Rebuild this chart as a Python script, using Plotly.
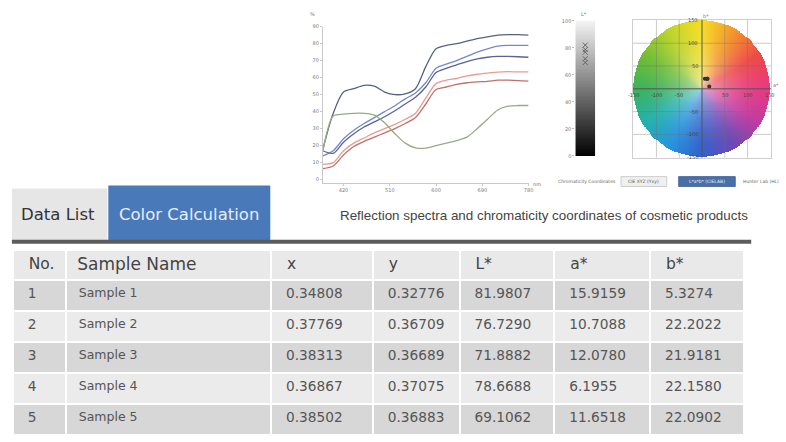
import numpy as np
import plotly.graph_objects as go

W, H = 786, 442
def fx(px): return px / W
def fy(py): return 1 - py / H

# ---------------- data ----------------
wavelengths = list(range(380, 781, 20))
spec_navy   = [18, 39, 51.5, 53.5, 55.5, 55, 51.5, 50, 50.5, 53.5, 66.5, 77, 79, 80, 81.5, 83, 84, 85, 85.3, 85.3, 85]
spec_blue   = [14, 17, 24, 29, 33, 36.5, 40, 43.5, 47.5, 51, 57, 65.5, 68, 70, 72.5, 75, 77, 78.5, 79, 79, 79]
spec_purple = [17, 15.5, 22, 27, 31, 34, 37, 40.5, 44.5, 48.5, 54.5, 63, 65.5, 67.5, 69.5, 71, 72, 72.5, 72.5, 72.3, 72]
spec_salmon = [9, 10, 17, 21.5, 24.5, 27.5, 30, 32.5, 35.5, 39, 48, 56.5, 58.5, 59.5, 61, 62, 62.7, 63.3, 63.5, 63.4, 63.4]
spec_red    = [6.5, 8, 14.5, 19.5, 22.5, 25, 27.5, 30, 33, 36.5, 44.5, 53, 54.5, 56, 57, 57.5, 57.8, 58.5, 58.5, 58.3, 58]
spec_green  = [17, 37.5, 38.5, 39, 39, 38, 33.5, 27, 21.5, 18.7, 18.5, 20, 21.5, 23, 25, 30, 35.5, 41, 43.2, 43.6, 43.6]

spec_ticks = [420, 510, 600, 690, 780]
pct_ticks = list(range(0, 91, 10))

sample_no = [1, 2, 3, 4, 5]
sample_names = ["Sample 1", "Sample 2", "Sample 3", "Sample 4", "Sample 5"]
cie_x = [0.34808, 0.37769, 0.38313, 0.36867, 0.38502]
cie_y = [0.32776, 0.36709, 0.36689, 0.37075, 0.36883]
L_star = [81.9807, 76.7290, 71.8882, 78.6688, 69.1062]
a_star = [15.9159, 10.7088, 12.0780, 6.1955, 11.6518]
b_star = [5.3274, 22.2022, 21.9181, 22.1580, 22.0902]

headers = ["No.", "Sample Name", "x", "y", "L*", "a*", "b*"]
L_ticks = [0, 20, 40, 60, 80, 100]
ab_ticks = [-150, -100, -50, 50, 100, 150]

fig = go.Figure()

# ---------------- spectra ----------------
series = [
    ("Spectrum 1", spec_navy, "#56627f"),
    ("Spectrum 2", spec_blue, "#7588cb"),
    ("Spectrum 3", spec_purple, "#5a619c"),
    ("Spectrum 4", spec_salmon, "#e99c94"),
    ("Spectrum 5", spec_red, "#c0706a"),
    ("Spectrum 6", spec_green, "#96ab82"),
]
for name, vals, col in series:
    fig.add_trace(go.Scatter(x=wavelengths, y=vals, mode="lines", name=name,
                             line=dict(color=col, width=1.3, shape="spline", smoothing=0.8),
                             xaxis="x", yaxis="y", hoverinfo="skip"))

# ---------------- L* gray bar ----------------
levels = np.linspace(0, 100, 101).tolist()
fig.add_trace(go.Heatmap(z=[[v] for v in levels], x=[0], y=levels,
                         colorscale=[[0, "#000000"], [1, "#f4f4f4"]],
                         showscale=False, xaxis="x2", yaxis="y2", hoverinfo="skip"))
fig.add_trace(go.Scatter(x=[0] * len(L_star), y=L_star, mode="markers",
                         marker=dict(symbol="x-thin", size=5, line=dict(color="#666", width=1)),
                         xaxis="x2", yaxis="y2", hoverinfo="skip"))

# ---------------- a*b* colour wheel ----------------
N = 150
R = 150.0
lim = 151.5
coords = np.linspace(-lim, lim, N)
A, B = np.meshgrid(coords, coords)  # row 0 = bottom (b = -lim)
rr = np.sqrt(A ** 2 + B ** 2) / R
ang = (np.degrees(np.arctan2(B, A)) + 360) % 360
key_ang = [0, 30, 60, 90, 120, 150, 180, 210, 240, 270, 300, 330, 360]
key_col = np.array([
    (232, 58, 128), (238, 72, 72), (244, 148, 44), (246, 222, 36), (188, 212, 44),
    (112, 190, 52), (60, 178, 90), (36, 178, 170), (38, 150, 222), (52, 96, 204),
    (108, 72, 182), (196, 58, 160), (232, 58, 128)], dtype=float)
rgb = np.zeros(A.shape + (3,))
for c in range(3):
    rgb[..., c] = np.interp(ang, key_ang, key_col[:, c])
w = np.clip(1 - rr, 0, 1) ** 2 * 0.6
rgb = rgb * (1 - w[..., None]) + 245 * w[..., None]
inside = rr <= 1
rgb[~inside] = 255
img = np.round(rgb).astype(int).tolist()
dxy = float(coords[1] - coords[0])
fig.add_trace(go.Image(z=img, colormodel="rgb", x0=-lim, dx=dxy, y0=-lim, dy=dxy,
                       xaxis="x3", yaxis="y3", hoverinfo="skip"))
fig.add_trace(go.Scatter(x=a_star, y=b_star, mode="markers",
                         marker=dict(size=4, color="#333"), xaxis="x3", yaxis="y3",
                         hoverinfo="skip"))

# ---------------- table ----------------
sp = "\u2002"
thin = "\u2009"
row_fill = ["#d7d7d7", "#ebebeb", "#d7d7d7", "#ebebeb", "#d7d7d7"]
fig.add_trace(go.Table(
    domain=dict(x=[fx(13), fx(749)], y=[0, fy(250)]),
    columnwidth=[53, 206, 102, 87, 95, 96, 94],
    header=dict(values=[sp + headers[0], thin + headers[1]] + [sp + h for h in headers[2:]],
                fill_color="#e9e9e9",
                line=dict(color="white", width=2), align="left", height=30,
                font=dict(family="DejaVu Sans", size=[15.5, 17, 15.5, 15.5, 15.5, 15.5, 15.5], color="#444")),
    cells=dict(values=[sample_no, sample_names, cie_x, cie_y, L_star, a_star, b_star],
               format=["", "", ".5f", ".5f", ".4f", ".4f", ".4f"],
               prefix=[sp, thin, sp, sp, sp, sp, sp],
               fill_color=[row_fill] * 7, line=dict(color="white", width=2),
               align="left", height=31,
               font=dict(family="DejaVu Sans", size=[13.7, 12.5, 13.7, 13.7, 13.7, 13.7, 13.7], color="#555")),
))

# ---------------- layout ----------------
small = dict(family="DejaVu Sans", size=5, color="#777")
fig.update_layout(
    width=W, height=H, margin=dict(l=0, r=0, t=0, b=0),
    paper_bgcolor="white", plot_bgcolor="white", showlegend=False,
    xaxis=dict(domain=[fx(325), fx(532)], range=[380, 780], anchor="y",
               tickvals=spec_ticks, tickfont=small, showline=True, linecolor="#c8c8c8",
               ticks="outside", ticklen=2, tickcolor="#c8c8c8", showgrid=False, zeroline=False),
    yaxis=dict(domain=[fy(182.5), fy(24)], range=[-2, 90], anchor="x",
               tickvals=pct_ticks, tickfont=small, showline=True, linecolor="#c8c8c8",
               ticks="outside", ticklen=2, tickcolor="#c8c8c8", showgrid=False, zeroline=False),
    xaxis2=dict(domain=[fx(579), fx(599)], range=[-0.5, 0.5], anchor="y2",
                showticklabels=False, ticks="", showgrid=False, zeroline=False, showline=False),
    yaxis2=dict(domain=[fy(155), fy(18)], range=[0, 100], anchor="x2", tickvals=L_ticks,
                tickfont=small, ticks="outside", ticklen=2, tickcolor="#bbb",
                showgrid=False, zeroline=False, showline=False),
    xaxis3=dict(domain=[fx(635), fx(778)], range=[-lim, lim], anchor="y3",
                showticklabels=False, showline=True, linecolor="#cfcfcf", mirror=True,
                showgrid=False, zeroline=False, ticks=""),
    yaxis3=dict(domain=[fy(157), fy(17)], range=[-lim, lim], anchor="x3",
                showticklabels=False, showline=True, linecolor="#cfcfcf", mirror=True,
                showgrid=False, zeroline=False, ticks=""),
)

shapes = []
for v in [-100, -50, 50, 100]:
    shapes.append(dict(type="line", xref="x3", yref="y3", x0=v, x1=v, y0=-lim, y1=lim,
                       line=dict(color="rgba(110,110,110,0.45)", width=0.8), layer="above"))
    shapes.append(dict(type="line", xref="x3", yref="y3", x0=-lim, x1=lim, y0=v, y1=v,
                       line=dict(color="rgba(110,110,110,0.45)", width=0.8), layer="above"))
shapes.append(dict(type="line", xref="x3", yref="y3", x0=0, x1=0, y0=-lim, y1=lim,
                   line=dict(color="#555", width=1), layer="above"))
shapes.append(dict(type="line", xref="x3", yref="y3", x0=-lim, x1=lim, y0=0, y1=0,
                   line=dict(color="#555", width=1), layer="above"))
# tabs
shapes.append(dict(type="rect", xref="paper", yref="paper", x0=fx(12), x1=fx(108), y0=fy(241), y1=fy(188),
                   fillcolor="#e6e6e6", line=dict(width=0), layer="below"))
shapes.append(dict(type="rect", xref="paper", yref="paper", x0=fx(109), x1=fx(272), y0=fy(241), y1=fy(185),
                   fillcolor="#4a79b9", line=dict(width=0), layer="below"))
shapes.append(dict(type="rect", xref="paper", yref="paper", x0=fx(12), x1=fx(756), y0=fy(244), y1=fy(240),
                   fillcolor="#5c5c5c", line=dict(width=0), layer="below"))
# buttons under wheel
shapes.append(dict(type="rect", xref="paper", yref="paper", x0=fx(625), x1=fx(671), y0=fy(186), y1=fy(176),
                   fillcolor="#f0f0f0", line=dict(color="#c4c4c4", width=0.8)))
shapes.append(dict(type="rect", xref="paper", yref="paper", x0=fx(683), x1=fx(740), y0=fy(186), y1=fy(176),
                   fillcolor="#4a6fa8", line=dict(color="#3d5f93", width=0.8)))
fig.update_layout(shapes=shapes)

ann = [
    dict(text="Data List", x=fx(58), y=fy(214), font=dict(family="DejaVu Sans", size=16.5, color="#333")),
    dict(text="Color Calculation", x=fx(190), y=fy(214), font=dict(family="DejaVu Sans", size=16.5, color="#e6eefa")),
    dict(text="Reflection spectra and chromaticity coordinates of cosmetic products", x=fx(547), y=fy(215),
         font=dict(family="Liberation Sans", size=13.4, color="#444")),
    dict(text="%", x=fx(314), y=fy(11), font=small),
    dict(text="nm", x=fx(540), y=fy(183), font=small),
    dict(text="L*", x=fx(588), y=fy(11), font=small),
    dict(text="b*", x=fx(711), y=fy(13), font=small),
    dict(text="a*", x=fx(781), y=fy(83), font=small),
    dict(text="Chromaticity Coordinates", x=fx(591), y=fy(181), font=dict(family="DejaVu Sans", size=4.5, color="#666")),
    dict(text="CIE XYZ (Yxy)", x=fx(648), y=fy(181), font=dict(family="DejaVu Sans", size=4.5, color="#555")),
    dict(text="L*a*b* (CIELAB)", x=fx(711.5), y=fy(181), font=dict(family="DejaVu Sans", size=4.5, color="#e8eef8")),
    dict(text="Hunter Lab (HL)", x=fx(766), y=fy(181), font=dict(family="DejaVu Sans", size=4.5, color="#666")),
]
for a in ann:
    a.update(xref="paper", yref="paper", showarrow=False, xanchor="center", yanchor="middle")
# wheel tick labels along the centre axes
for t in ab_ticks:
    ann.append(dict(text=str(t), x=t, y=0, xref="x3", yref="y3", showarrow=False,
                    xanchor="center", yanchor="top", yshift=-1, font=dict(family="DejaVu Sans", size=5, color="#444")))
    ann.append(dict(text=str(t), x=0, y=t, xref="x3", yref="y3", showarrow=False,
                    xanchor="right", yanchor="middle", xshift=-2, font=dict(family="DejaVu Sans", size=5, color="#444")))
fig.update_layout(annotations=ann)

fig.write_html("out.html", config={"staticPlot": True},
               post_script="document.body.style.margin='0';document.body.style.overflow='hidden';")
